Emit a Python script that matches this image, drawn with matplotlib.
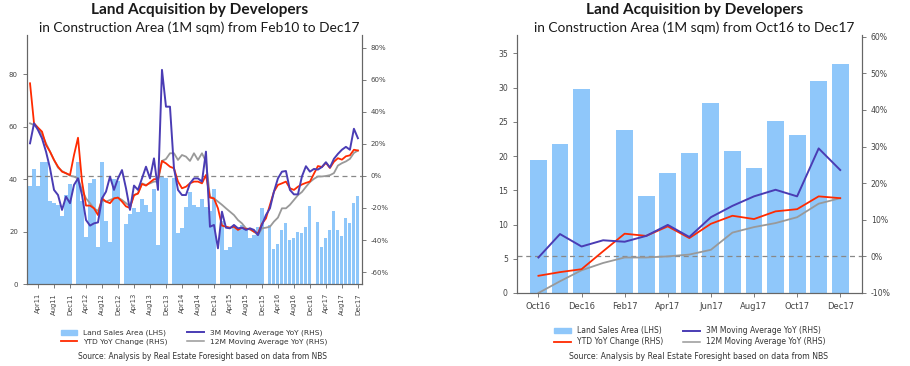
import numpy as np
import pandas as pd
import matplotlib
matplotlib.use("Agg")
import matplotlib.pyplot as plt
import matplotlib.patches as mpatches
from matplotlib.lines import Line2D
from matplotlib.ticker import FuncFormatter

# ── Colours ───────────────────────────────────────────────
BAR = "#8fc7fa"
PURPLE = "#4a3cb4"
RED = "#ff2a00"
GREY = "#999999"
TICK = "#444444"
SPINE = "#666666"

# ── Data: Feb11 .. Dec17 (monthly, Jan missing for bars) ──
nan = np.nan
land_all = [
    37.5, 44.0, 37.5, 46.5, 46.5, 31.5, 31.0, 30.0, 26.0, 34.0, 38.0,
    nan, 46.5, 31.5, 18.0, 38.5, 40.0, 14.0, 46.5, 24.0, 16.0, 40.0, 39.5,
    nan, 22.8, 26.6, 29.0, 27.5, 32.6, 30.0, 27.6, 36.4, 14.9, 41.0, 40.5,
    nan, 40.3, 19.3, 21.2, 29.5, 35.2, 30.1, 29.5, 32.6, 29.5, 28.0, 36.4,
    nan, 24.0, 13.0, 14.0, 21.6, 20.6, 22.5, 20.8, 17.4, 18.7, 21.9, 29.2,
    nan, 22.5, 13.3, 15.2, 20.8, 23.1, 16.8, 17.4, 19.9, 19.5, 21.7, 29.8,
    nan, 23.8, 14.1, 17.5, 20.5, 27.7, 20.7, 18.2, 25.1, 23.1, 31.0, 33.5,
]
ma3_all = [
    20.4, 32.9, 28.7, 23.5, 15.2, 4.8, -8.7, -11.9, -21.2, -12.9, -17.0, -5.6,
    -1.5, -11.9, -27.5, -31.0, -29.6, -29.0, -14.0, -9.8, -0.4, -8.7, -1.5, 3.7,
    -7.7, -21.2, -6.0, -8.7, -1.5, 5.8, -1.5, 11.0, -8.7, 66.3, 43.3, 43.3,
    4.8, -8.7, -11.9, -11.9, -4.6, -1.5, -1.5, -3.5, 15.2, -31.7, -30.6, -45.2,
    -22.3, -32.3, -32.7, -30.6, -32.7, -32.3, -33.7, -32.7, -33.7, -36.9, -30.6, -24.4,
    -20.2, -9.8, -1.5, 2.7, 3.1, -8.7, -11.5, -11.5, -0.3, 6.1, 2.7, 4.4,
    4.0, 5.6, 8.6, 5.3, 10.7, 13.8, 16.4, 18.2, 16.4, 29.5, 23.6,
]
ytd_all = [
    57.9, 32.9, 30.2, 27.7, 19.4, 15.2, 10.0, 5.8, 2.7, 1.7, 0.6, 13.1,
    23.9, -3.5, -18.5, -18.5, -20.2, -24.4, -14.0, -16.0, -17.0, -14.0, -13.5, -16.0,
    -19.0, -20.0, -12.0, -11.0, -5.0, -6.0, -4.0, -2.0, -2.0, 9.4, 7.9, 5.8,
    4.8, -3.5, -7.7, -6.7, -4.6, -3.5, -3.5, -4.6, 0.6, -13.5, -14.0, -20.2,
    -31.0, -31.7, -32.3, -31.7, -33.7, -32.3, -33.1, -33.0, -34.8, -35.8, -29.8, -26.5,
    -18.1, -9.8, -5.6, -4.6, -3.5, -7.7, -8.7, -6.7, -5.3, -4.3, -3.5, 1.4,
    6.2, 5.6, 8.2, 5.0, 8.9, 11.1, 10.2, 12.3, 12.9, 16.4, 15.9,
]
ma12_all = [
    32.9, 31.9, 29.8, 26.0, 20.4, 15.2, 10.0, 5.2, 3.1, 1.7, 0.2, -0.4,
    -1.5, -8.7, -14.0, -17.0, -20.2, -21.9, -15.0, -16.0, -15.0, -14.0, -13.5, -15.0,
    -17.0, -19.0, -11.9, -10.8, -4.6, -5.6, -4.6, -3.5, -3.5, 9.4, 10.6, 14.2,
    14.2, 10.0, 13.1, 12.1, 9.4, 14.2, 10.0, 14.2, 9.0, -13.0, -14.0, -16.0,
    -18.0, -20.2, -22.3, -24.4, -27.5, -29.6, -32.7, -33.5, -34.8, -36.9, -32.7, -32.3,
    -31.7, -28.5, -26.0, -20.2, -20.2, -18.0, -15.0, -12.0, -10.0, -6.8, -3.8, -1.8,
    -0.3, -0.3, 0.0, 0.5, 1.8, 6.5, 8.0, 9.1, 10.7, 14.4, 15.9,
]
months_all = pd.date_range("2011-02-01", periods=len(land_all), freq="MS").strftime("%b%y").tolist()

# ── Data: Oct16 .. Dec17 ──────────────────────────────────
land_recent = [19.5, 21.7, 29.8, nan, 23.8, 14.1, 17.5, 20.5, 27.7, 20.7, 18.2, 25.1, 23.1, 31.0, 33.5]
ma3_recent = [-0.3, 6.1, 2.7, 4.4, 4.0, 5.6, 8.6, 5.3, 10.7, 13.8, 16.4, 18.2, 16.4, 29.5, 23.6]
ytd_recent = [-5.3, -4.3, -3.5, 1.4, 6.2, 5.6, 8.2, 5.0, 8.9, 11.1, 10.2, 12.3, 12.9, 16.4, 15.9]
ma12_recent = [-10.0, -6.8, -3.8, -1.8, -0.3, -0.3, 0.0, 0.5, 1.8, 6.5, 8.0, 9.1, 10.7, 14.4, 15.9]
months_recent = pd.date_range("2016-10-01", periods=len(land_recent), freq="MS").strftime("%b%y").tolist()

TITLE = "Land Acquisition by Developers"
SOURCE = "Source: Analysis by Real Estate Foresight based on data from NBS"
TITLE_FONT = "Lato"

fig = plt.figure(figsize=(9.1, 3.66), dpi=100, facecolor="white")


def style_axes(ax, ax2, ysize, xsize):
    for a in (ax, ax2):
        a.spines["top"].set_visible(False)
        for s in ("left", "right", "bottom"):
            a.spines[s].set_color(SPINE)
            a.spines[s].set_linewidth(0.8)
        a.tick_params(colors=SPINE, labelcolor=TICK, length=3, width=0.6, labelsize=ysize)
    ax.tick_params(axis="x", labelsize=xsize)
    ax2.yaxis.set_major_formatter(FuncFormatter(lambda v, _: f"{v:.0f}%"))


def draw_panel(rect, land, ma3, ytd, ma12, labels, xlim, ylim, y2lim, yticks, y2ticks,
               tick_idx, rot, ysize, xsize, bar_w):
    ax = fig.add_axes(rect)
    ax2 = ax.twinx()
    x = np.arange(len(land))
    ax.bar(x, land, width=bar_w, color=BAR, zorder=1)
    ax2.axhline(0, color="#888888", linestyle=(0, (4, 3)), linewidth=0.9, zorder=1)
    ax2.plot(x, ma12, color=GREY, linewidth=1.3, zorder=2)
    ax2.plot(x, ytd, color=RED, linewidth=1.3, zorder=3)
    ax2.plot(x, ma3, color=PURPLE, linewidth=1.4, zorder=4)
    ax.set_xlim(*xlim)
    ax.set_ylim(*ylim)
    ax2.set_ylim(*y2lim)
    ax.set_yticks(yticks)
    ax2.set_yticks(y2ticks)
    ax.set_xticks(tick_idx)
    ax.set_xticklabels([labels[i] for i in tick_idx], rotation=rot)
    style_axes(ax, ax2, ysize, xsize)
    return ax, ax2


# ── Left panel ────────────────────────────────────────────
draw_panel([0.0297, 0.224, 0.368, 0.680], land_all, ma3_all, ytd_all, ma12_all, months_all,
           (-0.75, 83), (0, 95), (-67.5, 88), [0, 20, 40, 60, 80],
           [-60, -40, -20, 0, 20, 40, 60, 80], list(range(2, len(land_all), 4)),
           90, 5.0, 4.9, 0.78)

# ── Right panel ───────────────────────────────────────────
draw_panel([0.568, 0.1995, 0.379, 0.705], land_recent, ma3_recent, ytd_recent, ma12_recent,
           months_recent, (-1, 15), (0, 37.7), (-10, 60.5), [0, 5, 10, 15, 20, 25, 30, 35],
           [-10, 0, 10, 20, 30, 40, 50, 60], list(range(0, len(land_recent), 2)),
           0, 5.6, 6.0, 0.78)

# ── Titles ────────────────────────────────────────────────
for cx, sub in ((0.219, "in Construction Area (1M sqm) from Feb10 to Dec17"),
                (0.763, "in Construction Area (1M sqm) from Oct16 to Dec17")):
    fig.text(cx, 0.973, TITLE, ha="center", va="center", fontsize=11.1,
             fontweight="bold", family=TITLE_FONT, color="#1a1a1a")
    fig.text(cx, 0.923, sub, ha="center", va="center", fontsize=9.9,
             family=TITLE_FONT, color="#1a1a1a")

# ── Legends + source ─────────────────────────────────────
handles = [
    mpatches.Patch(color=BAR, label="Land Sales Area (LHS)"),
    Line2D([0], [0], color=RED, linewidth=1.3, label="YTD YoY Change (RHS)"),
    Line2D([0], [0], color=PURPLE, linewidth=1.4, label="3M Moving Average YoY (RHS)"),
    Line2D([0], [0], color=GREY, linewidth=1.1, label="12M Moving Average YoY (RHS)"),
]
for cx, cy, fs in ((0.213, 0.078, 5.4), (0.758, 0.081, 5.5)):
    fig.legend(handles=handles, loc="center", bbox_to_anchor=(cx, cy), ncol=2,
               frameon=False, fontsize=fs, labelcolor="#333333",
               handlelength=2.2, handleheight=0.6, columnspacing=2.6, labelspacing=0.3)

fig.text(0.223, 0.025, SOURCE, ha="center", va="center", fontsize=5.45, color="#333333")
fig.text(0.768, 0.027, SOURCE, ha="center", va="center", fontsize=5.6, color="#333333")

fig.savefig("out.png", dpi=100, facecolor="white")
